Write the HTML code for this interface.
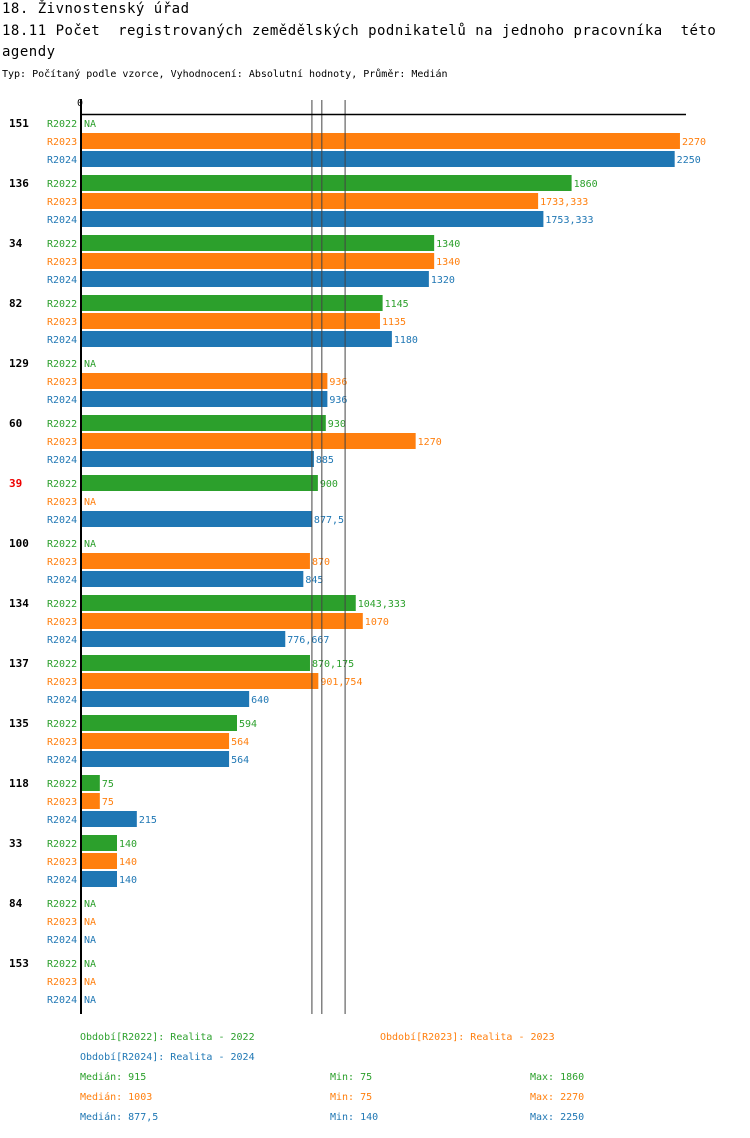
<!DOCTYPE html>
<html><head><meta charset="utf-8"><style>
body{margin:0;background:#fff;width:750px;height:1134px;overflow:hidden;font-family:"DejaVu Sans Mono","Liberation Mono",monospace}
svg text{font-family:"DejaVu Sans Mono","Liberation Mono",monospace;white-space:pre}
.ttl{letter-spacing:0.5px}
</style></head><body>
<svg id="chart" width="750" height="1134" xmlns="http://www.w3.org/2000/svg">
<text class="ttl" x="2" y="13" font-size="14" fill="#000">18. Živnostenský úřad</text>
<text class="ttl" x="2" y="35" font-size="14" fill="#000" xml:space="preserve">18.11 Počet  registrovaných zemědělských podnikatelů na jednoho pracovníka  této</text>
<text class="ttl" x="2" y="56" font-size="14" fill="#000">agendy</text>
<text x="2" y="77" font-size="10" fill="#000">Typ: Počítaný podle vzorce, Vyhodnocení: Absolutní hodnoty, Průměr: Medián</text>
<g id="plot"></g>
</svg>
<script>
const categories=["151","136","34","82","129","60","39","100","134","137","135","118","33","84","153"];
const r2022=[null,1860,1340,1145,null,930,900,null,1043.333,870.175,594,75,140,null,null];
const r2023=[2270,1733.333,1340,1135,936,1270,null,870,1070,901.754,564,75,140,null,null];
const r2024=[2250,1753.333,1320,1180,936,885,877.5,845,776.667,640,564,215,140,null,null];
const seriesNames=["R2022","R2023","R2024"];
const colors=["#2ca02c","#ff7f0e","#1f77b4"];
const medians=[915,1003,877.5];
const mins=[75,75,140];
const maxs=[1860,2270,2250];
const highlight="39";

const NS="http://www.w3.org/2000/svg";
const plotG=document.getElementById('plot');
const xs=v=>80+v*0.2643;
const rowY=(gi,si)=>123+gi*60+si*18;
function mk(t,a,txt){const e=document.createElementNS(NS,t);for(const k in a)e.setAttribute(k,a[k]);if(txt!==undefined)e.textContent=txt;plotG.appendChild(e);return e;}
const fmt=v=>String(v).replace('.',',');
const seriesList=[r2022,r2023,r2024];

let t0=mk('text',{x:77,y:106,'font-size':10,fill:'#000'},'0');



categories.forEach((c,gi)=>{
  let lab=mk('text',{x:9,y:rowY(gi,0)+4,'font-size':11,'font-weight':'bold',fill:c===highlight?'#e00':'#000'},c);
  
  
  seriesList.forEach((s,si)=>{
    const cy=rowY(gi,si);
    let sl=mk('text',{x:47,y:cy+4,'font-size':10,fill:colors[si]},seriesNames[si]);
    
    
    const v=s[gi];
    if(v===null){
      let na=mk('text',{x:84,y:cy+4,'font-size':10,fill:colors[si]},'NA');
      
      
    } else {
      const xe=xs(v);
      let b=mk('rect',{x:82,y:cy-8,width:Math.max(0,xe-82),height:16,fill:colors[si]});
      
      
      let vl=mk('text',{x:xe+2,y:cy+4,'font-size':10,fill:colors[si]},fmt(v));
      
      
    }
  });
});
[2,0,1].forEach(i=>{
  let l=mk('line',{x1:xs(medians[i]),x2:xs(medians[i]),y1:100,y2:1014,stroke:'#444','stroke-width':1});
  
  
});
let topLine=mk('line',{x1:80,x2:686,y1:114.5,y2:114.5,stroke:'#000','stroke-width':1.5});


let ax=mk('line',{x1:81,x2:81,y1:99,y2:1014,stroke:'#000','stroke-width':2});



const legTxt=["Období[R2022]: Realita - 2022","Období[R2023]: Realita - 2023","Období[R2024]: Realita - 2024"];
const legPos=[[80,1040],[380,1040],[80,1060]];
legTxt.forEach((s,i)=>{
  let e=mk('text',{x:legPos[i][0],y:legPos[i][1],'font-size':10,fill:colors[i]},s);
  
  
});
[0,1,2].forEach(i=>{
  const y=1080+i*20;
  let a=mk('text',{x:80,y:y,'font-size':10,fill:colors[i]},'Medián: '+fmt(medians[i]));
  
  
  let b=mk('text',{x:330,y:y,'font-size':10,fill:colors[i]},'Min: '+fmt(mins[i]));
  
  
  let d=mk('text',{x:530,y:y,'font-size':10,fill:colors[i]},'Max: '+fmt(maxs[i]));
  
  
});
</script>
</body></html>
